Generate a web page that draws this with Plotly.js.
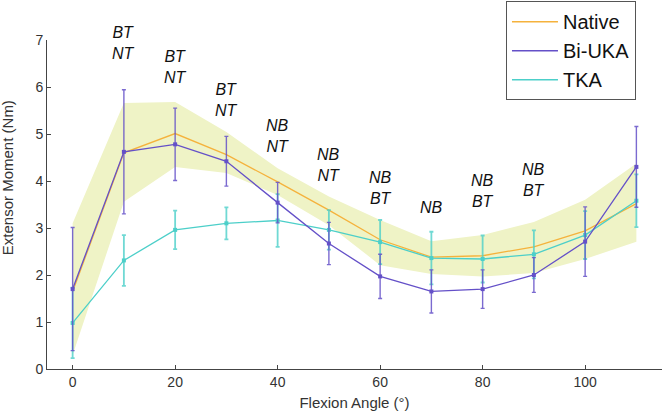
<!DOCTYPE html>
<html>
<head>
<meta charset="utf-8">
<script src="https://cdn.plot.ly/plotly-3.0.1.min.js"></script>
<style>html,body{margin:0;padding:0;background:#fff;}#chart{width:663px;height:413px;}</style>
</head>
<body>
<div id="chart"></div>
<script>
// Flexion angles (degrees)
const angles = [0, 10, 20, 30, 40, 50, 60, 70, 80, 90, 100, 110];

// Native: mean line and SD band edges
const nativeMean  = [1.65, 4.60, 5.01, 4.56, 3.98, 3.38, 2.75, 2.38, 2.41, 2.60, 2.94, 3.52];
const nativeUpper = [3.10, 5.66, 5.68, 5.04, 4.27, 3.67, 3.17, 2.72, 2.85, 3.13, 3.60, 4.37];
const nativeLower = [0.30, 3.56, 4.30, 4.17, 3.70, 3.06, 2.21, 2.02, 1.97, 2.04, 2.34, 2.71];

// Bi-UKA: mean and SD
const biMean = [1.70, 4.62, 4.78, 4.42, 3.54, 2.67, 1.97, 1.65, 1.70, 2.00, 2.71, 4.30];
const biSD   = [1.31, 1.32, 0.77, 0.53, 0.43, 0.45, 0.47, 0.46, 0.41, 0.37, 0.74, 0.86];

// TKA: mean and SD
const tkaMean = [0.98, 2.31, 2.96, 3.10, 3.16, 2.96, 2.70, 2.36, 2.34, 2.44, 2.85, 3.58];
const tkaSD   = [0.75, 0.54, 0.41, 0.34, 0.56, 0.42, 0.47, 0.56, 0.50, 0.51, 0.51, 0.56];

// Significance labels
const sigAngles = [10, 20, 30, 40, 50, 60, 70, 80, 90];
const sigLabels = ["BT<br>NT", "BT<br>NT", "BT<br>NT", "NB<br>NT", "NB<br>NT", "NB<br>BT", "NB", "NB<br>BT", "NB<br>BT"];
const sigLevels = [6.94, 6.43, 5.73, 4.95, 4.35, 3.85, 3.44, 3.78, 4.02];

const seriesNames = ['Native', 'Bi-UKA', 'TKA'];

const cNative = '#f5b23c';
const cBi = '#6450c8';
const cTka = '#4ccfc9';
const cBand = '#eff3c6';

const traces = [
  {x: angles, y: nativeLower, mode: 'lines', line: {width: 0, color: cBand}, showlegend: false, hoverinfo: 'skip'},
  {x: angles, y: nativeUpper, mode: 'lines', line: {width: 0, color: cBand}, fill: 'tonexty', fillcolor: cBand, showlegend: false, hoverinfo: 'skip'},
  {x: angles, y: nativeMean, mode: 'lines', line: {color: cNative, width: 1.3}, showlegend: false},
  {x: angles, y: tkaMean, mode: 'lines+markers', line: {color: cTka, width: 1.3},
   marker: {size: 4, color: cTka, symbol: 'square'}, showlegend: false,
   error_y: {type: 'data', array: tkaSD, visible: true, color: 'rgba(76,207,201,0.8)', thickness: 1.8, width: 2}},
  {x: angles, y: biMean, mode: 'lines+markers', line: {color: cBi, width: 1.3},
   marker: {size: 4, color: cBi, symbol: 'square'}, showlegend: false,
   error_y: {type: 'data', array: biSD, visible: true, color: 'rgba(100,80,200,0.85)', thickness: 1.4, width: 2}},
  // legend entries (lines only)
  {x: [null], y: [null], mode: 'lines', name: seriesNames[0], line: {color: cNative, width: 1.5}},
  {x: [null], y: [null], mode: 'lines', name: seriesNames[1], line: {color: cBi, width: 1.5}},
  {x: [null], y: [null], mode: 'lines', name: seriesNames[2], line: {color: cTka, width: 1.5}}
];

const annotations = sigAngles.map((a, i) => ({
  x: a, y: sigLevels[i], xref: 'x', yref: 'y', text: '<i>' + sigLabels[i] + '</i>',
  showarrow: false, font: {family: 'Liberation Sans, Arial, sans-serif', size: 16, color: '#111'},
  xanchor: 'center', yanchor: 'middle'
}));
annotations.push({
  x: -0.064, y: 0.582, xref: 'paper', yref: 'paper', text: 'Extensor Moment (Nm)',
  textangle: -90, showarrow: false, xanchor: 'center', yanchor: 'middle',
  font: {family: 'Liberation Sans, Arial, sans-serif', size: 15, color: '#333'}
});

const layout = {
  width: 663, height: 413,
  margin: {l: 47, r: 1, t: 40, b: 44},
  paper_bgcolor: '#fff', plot_bgcolor: '#fff',
  font: {family: 'Liberation Sans, Arial, sans-serif', color: '#333', size: 14},
  xaxis: {
    range: [-5, 115], tickvals: [0, 20, 40, 60, 80, 100], ticks: 'inside', ticklen: 4, tickcolor: '#444',
    showline: true, linecolor: '#444', linewidth: 1, showgrid: false, zeroline: false,
    tickfont: {size: 14, color: '#333'},
    title: {text: 'Flexion Angle (°)', font: {size: 15, color: '#333'}, standoff: 8}
  },
  yaxis: {
    range: [0, 7], dtick: 1, ticks: 'inside', ticklen: 4, tickcolor: '#444',
    showline: true, linecolor: '#444', linewidth: 1, showgrid: false, zeroline: false,
    tickfont: {size: 14, color: '#333'}
  },
  legend: {
    x: 0.7463, y: 1.118, xanchor: 'left', yanchor: 'top', traceorder: 'normal',
    bordercolor: '#555', borderwidth: 1, bgcolor: '#fff',
    font: {size: 20, color: '#111'}, itemwidth: 46, tracegroupgap: 0
  },
  annotations: annotations,
  showlegend: true
};

Plotly.newPlot('chart', traces, layout, {displayModeBar: false, staticPlot: true});
</script>
</body>
</html>
